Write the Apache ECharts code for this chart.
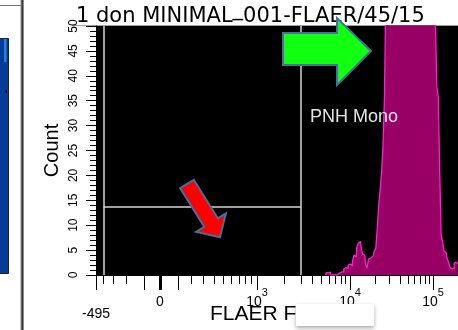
<!DOCTYPE html>
<html>
<head>
<meta charset="utf-8">
<script src="https://cdn.jsdelivr.net/npm/echarts@6/dist/echarts.min.js"></script>
<style>
  html, body { margin: 0; padding: 0; background: #ffffff; }
  #chart { width: 458px; height: 330px; }
</style>
</head>
<body>
<div id="chart"></div>
<script>
// ---- Sample: FLAER histogram (counts per display channel) ----
const histStartChannel = 158;
const histCounts = [
  0, 0.5, 0.4, 0.6, 0, 0, 0, 0.3, 0, 0.4,
  0.8, 0.6, 0.7, 1.2, 1.5, 1.3, 2.0, 2.2, 1.8, 2.8,
  4.0, 3.6, 5.6, 6.4, 6.7, 5.4, 4.2, 3.9, 2.2, 1.4,
  3.2, 3.4, 3.7, 3.6, 4.8, 5.3, 9.2, 13.8, 17.2, 20.5,
  26, 35.7, 58, 66, 74, 82, 90, 97, 104, 110,
  115, 118, 121, 122, 121, 119, 116, 112, 108, 103,
  98, 93, 88, 84, 80, 76, 73, 70, 67, 64,
  62, 60, 58, 57, 55, 54, 52, 37.7, 36, 21,
  8, 6.7, 4.8, 4.4, 3.4, 2.6, 1.6, 1.2, 1.4, 2.4,
  2.6, 2.2
];

// ---- Axis ticks and labels (FLAER intensity) ----
const xLabelValues = [-495, 0, 1000, 10000, 100000];
const xLabelTexts = ['-495', '0', '10^3', '10^4', '10^5'];
const xMajorTicks = [-495, -100, 0, 100, 1000, 10000, 100000];
const xMinorTicks = [-400, -300, -200,
  200, 300, 400, 500, 600, 700, 800, 900,
  2000, 3000, 4000, 5000, 6000, 7000, 8000, 9000,
  20000, 30000, 40000, 50000, 60000, 70000, 80000, 90000,
  200000];
const xZeroTick = [0];

// ---- Gate ----
const gateName = 'PNH Mono';
const gateRange = [-400, 3000];
const gateLevel = 13.8;

const titleParts = ['1 don MINIMAL', '_', '001-FLAER/45/15'];
const xName = 'FLAER FITC-A';
const yName = 'Count';

// ---- Biexponential display scale: intensity -> display channel ----
const scaleBreakValues = [-495, -100, 0, 100, 1000, 10000, 100000];
const scaleBreakChannels = [0, 33.0, 44.0, 56.4, 110.8, 174.8, 231.9];
const channelMax = 249.1;

function shape(v) {
  return v < 0 ? Math.asinh(v / 150) : Math.asinh(v / 400);
}
function toChannel(v) {
  let i = 0;
  while (i < scaleBreakValues.length - 2 && v > scaleBreakValues[i + 1]) i++;
  const h0 = shape(scaleBreakValues[i]);
  const h1 = shape(scaleBreakValues[i + 1]);
  const c0 = scaleBreakChannels[i];
  const c1 = scaleBreakChannels[i + 1];
  return c0 + (shape(v) - h0) / (h1 - h0) * (c1 - c0);
}

function xLabelFormatter(value) {
  let idx = -1;
  xLabelValues.forEach(function (v, i) {
    if (Math.abs(toChannel(v) - value) < 1e-6) idx = i;
  });
  if (idx < 0) return '';
  const t = xLabelTexts[idx];
  if (t.indexOf('^') >= 0) {
    const parts = t.split('^');
    return '{n|' + parts[0] + '}{s|' + parts[1] + '}';
  }
  if (t.charAt(0) === '-') return '{low|' + t + '}';
  return '{n|' + t + '}';
}

const FONT = 'Liberation Sans, Arial, sans-serif';
const TITLE_FONT = 'DejaVu Sans, sans-serif';
const histData = histCounts.map(function (c, i) { return [histStartChannel + i, c]; });

function tickAxis(values, len, width, showLine) {
  return {
    type: 'value',
    position: 'bottom',
    min: 0,
    max: channelMax,
    axisLine: { show: showLine, lineStyle: { color: '#000', width: 1 } },
    axisTick: {
      show: true,
      customValues: values.map(toChannel),
      length: len,
      lineStyle: { color: '#000', width: width }
    },
    axisLabel: { show: false },
    splitLine: { show: false }
  };
}

const mainX = tickAxis(xMajorTicks, 15, 1, true);
mainX.axisLabel = {
  show: true,
  customValues: xLabelValues.map(toChannel),
  formatter: xLabelFormatter,
  margin: 12,
  color: '#000',
  fontFamily: FONT,
  rich: {
    n: { fontSize: 14, fontFamily: FONT, color: '#000', padding: [8, 0, 0, 0] },
    s: { fontSize: 11, fontFamily: FONT, color: '#000', verticalAlign: 'top' },
    low: { fontSize: 14, fontFamily: FONT, color: '#000', padding: [20, 0, 0, 0] }
  }
};
mainX.name = xName;
mainX.nameLocation = 'middle';
mainX.nameGap = 29;
mainX.nameMoveOverlap = false;
mainX.nameTextStyle = { fontSize: 21, fontFamily: FONT, color: '#000', padding: [0, 0, 0, 7] };

const chart = echarts.init(document.getElementById('chart'), null, { renderer: 'canvas' });

chart.setOption({
  animation: false,
  backgroundColor: '#ffffff',
  title: {
    text: '{a|' + titleParts[0] + '}{u|' + titleParts[1] + '}{a|' + titleParts[2] + '}',
    left: 71,
    top: -6,
    textStyle: {
      fontSize: 21, fontWeight: 'normal', color: '#000', fontFamily: TITLE_FONT,
      rich: {
        a: { fontSize: 21, fontFamily: TITLE_FONT, color: '#000', verticalAlign: 'bottom' },
        u: { fontSize: 21, fontFamily: TITLE_FONT, color: '#000', verticalAlign: 'bottom', padding: [0, 0, 7, 0] }
      }
    }
  },
  grid: {
    left: 96, right: 0, top: 26, bottom: 55,
    show: true, backgroundColor: '#000000', borderWidth: 0,
    containLabel: false,
    outerBoundsMode: 'none'
  },
  xAxis: [
    mainX,
    tickAxis(xMinorTicks, 9, 1, false),
    tickAxis(xZeroTick, 15, 3, false)
  ],
  yAxis: {
    type: 'value',
    min: 0, max: 50, interval: 5,
    offset: 2,
    name: yName,
    nameLocation: 'middle',
    nameGap: 32,
    nameMoveOverlap: false,
    nameTextStyle: { fontSize: 20, fontFamily: FONT, color: '#000' },
    axisLine: { show: true, lineStyle: { color: '#000', width: 1 } },
    axisTick: { show: true, length: 10, lineStyle: { color: '#000' } },
    minorTick: { show: true, splitNumber: 5, length: 6, lineStyle: { color: '#000' } },
    axisLabel: { rotate: 90, fontSize: 12, fontFamily: FONT, color: '#000', margin: 14 },
    splitLine: { show: false }
  },
  series: [{
    type: 'line',
    name: 'FLAER',
    xAxisIndex: 0,
    data: histData,
    step: 'middle',
    symbol: 'none',
    clip: true,
    lineStyle: { color: '#ff1fcf', width: 1.3 },
    areaStyle: { color: '#990066', opacity: 1 },
    markLine: {
      silent: true,
      symbol: ['none', 'none'],
      label: { show: false },
      lineStyle: { color: '#d6d6d6', width: 1.5, type: 'solid' },
      data: [
        { xAxis: toChannel(gateRange[0]) },
        { xAxis: toChannel(gateRange[1]) },
        [{ coord: [toChannel(gateRange[0]), gateLevel] }, { coord: [toChannel(gateRange[1]), gateLevel] }]
      ]
    }
  }],
  graphic: [
    // neighbouring panel edge
    { type: 'line', shape: { x1: 0, y1: 5.5, x2: 22, y2: 5.5 }, style: { stroke: '#777', lineWidth: 1 } },
    { type: 'rect', shape: { x: 20.5, y: 0, width: 3.5, height: 330 }, style: { fill: '#8c8c8c' } },
    { type: 'line', shape: { x1: 22.2, y1: 0, x2: 22.2, y2: 330 }, style: { stroke: '#1a1a1a', lineWidth: 1 } },
    { type: 'rect', shape: { x: -1, y: 38.5, width: 9.5, height: 235 }, style: { fill: '#063c96', stroke: '#222', lineWidth: 1 } },
    { type: 'rect', shape: { x: 4, y: 39, width: 2.5, height: 23 }, style: { fill: '#2a7de1' } },
    { type: 'rect', shape: { x: 5.5, y: 90, width: 1.5, height: 3 }, style: { fill: '#000' } },
    // plot frame top line
    { type: 'line', shape: { x1: 72, y1: 25.5, x2: 458, y2: 25.5 }, style: { stroke: '#a0a0a0', lineWidth: 1 } },
    // gate label
    { type: 'text', left: 310, top: 108, z: 100,
      style: { text: gateName, fontSize: 18, fontFamily: FONT, fill: '#e6e6e6' } },
    // green arrow
    { type: 'polygon', z: 100,
      shape: { points: [[283, 33], [337, 33], [337, 18], [371, 51], [337, 85], [337, 65], [283, 65]] },
      style: { fill: '#11ff11', stroke: '#41719c', lineWidth: 2 } },
    // red arrow
    { type: 'polygon', z: 100,
      shape: { points: [[180.2, 188.2], [193.8, 179.8], [217.8, 218.4], [225.9, 213.3], [220, 237.3], [196.1, 231.9], [204.2, 226.8]] },
      style: { fill: '#ff0000', stroke: '#41719c', lineWidth: 2 } },
    // white cover box
    { type: 'rect', z: 100,
      shape: { x: 296, y: 304, width: 78, height: 22 },
      style: { fill: '#ffffff', shadowBlur: 4, shadowOffsetY: 2, shadowColor: 'rgba(0,0,0,0.35)' } }
  ]
});
</script>
</body>
</html>
